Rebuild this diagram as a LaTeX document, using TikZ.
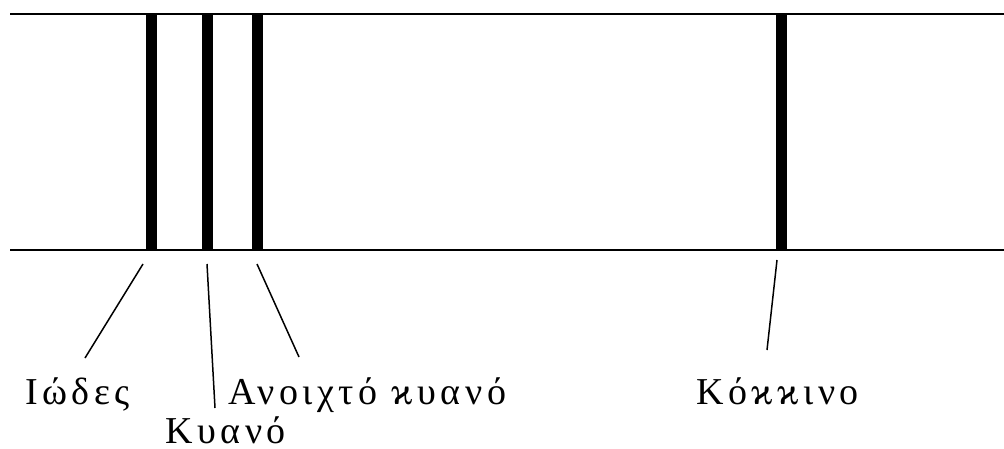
\documentclass[tikz,border=0pt]{standalone}
\usepackage{fontspec}
\setmainfont{Liberation Serif}
\newfontfamily\spaced[LetterSpace=12]{Liberation Serif}
\begin{document}
\begin{tikzpicture}[x=1pt,y=-1pt,
    bar/.style={fill=black,draw=none,minimum width=11pt,minimum height=236pt,inner sep=0pt},
    label/.style={anchor=base west,inner sep=0pt,text depth=0pt,font=\fontsize{38}{38}\selectfont\spaced},
    leader/.style={line width=1.5pt}]
        \useasboundingbox (0,0) rectangle (1004,449);
        % the four spectral lines
        \node[bar] (violet) at (151.5,132) {};
        \node[bar] (blue) at (207,132) {};
        \node[bar] (lightblue) at (257,132) {};
        \node[bar] (red) at (781.5,132) {};
        \draw[line width=2pt] (10,14) -- (1004,14);
        \draw[line width=2pt] (10,250) -- (1004,250);
        % labels
        \node[label] (violettext) at (25,404) {Ιώδες};
        \node[label] (bluetext) at (165,443) {Κυανό};
        \node[label] (lightbluetext) at (228,404) {Ανοιχτό ϰυανό};
        \node[label] (redtext) at (696,404) {Κόϰϰινο};
        \coordinate (v1) at (143,264); \coordinate (v2) at (85,358);
        \coordinate (b1) at (207,264); \coordinate (b2) at (215,408);
        \coordinate (l1) at (257,264); \coordinate (l2) at (299,357);
        \coordinate (r1) at (777,260); \coordinate (r2) at (767,350);
        \draw[leader] (v1) -- (v2);
        \draw[leader] (b1) -- (b2);
        \draw[leader] (l1) -- (l2);
        \draw[leader] (r1) -- (r2);
    \end{tikzpicture}
\end{document}
